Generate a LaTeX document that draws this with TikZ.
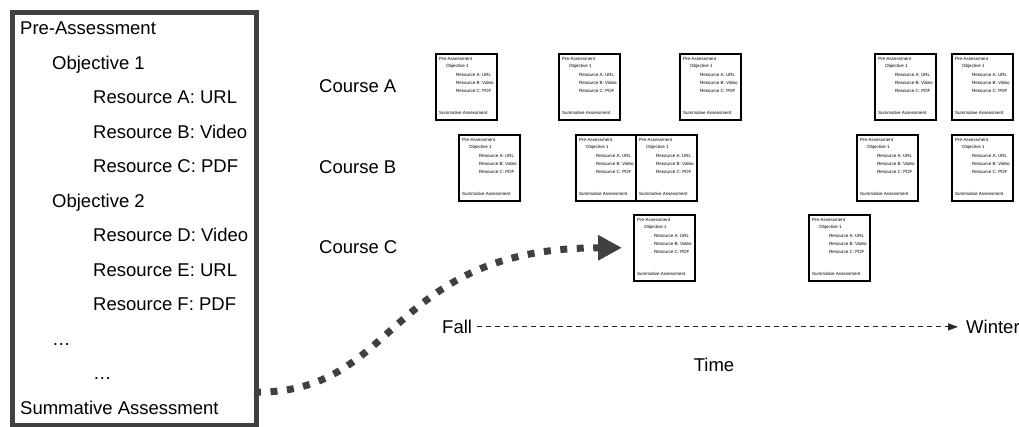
\documentclass[tikz,border=0pt]{standalone}
\usepackage{fontspec}
\setmainfont{Liberation Sans}
\usetikzlibrary{arrows.meta}
\definecolor{boxgray}{HTML}{404040}

% one small course page, top left corner at (#2,#3)
\newcommand{\coursedoc}[3]{%
  \node[docbox] (#1) at (#2,#3) {};
  \begin{scope}[shift={(#2,#3)}]
    \node[doctext] (#1-pre) at (4,5.5) {Pre-Assessment};
    \node[doctext] (#1-obj) at (11,13.5) {Objective 1};
    \node[doctext] (#1-ra) at (21,21.5) {Resource A: URL};
    \node[doctext] (#1-rb) at (21,29.5) {Resource B: Video};
    \node[doctext] (#1-rc) at (21,37.5) {Resource C: PDF};
    \node[doctext] (#1-sum) at (4,59.5) {Summative Assessment};
  \end{scope}}

\begin{document}
\begin{tikzpicture}[x=1pt, y=-1pt, font=\fontsize{18.5pt}{22pt}\selectfont,
    planbox/.style={draw=boxgray, line width=5pt, minimum width=244pt, minimum height=413pt, anchor=north west, inner sep=0},
    item/.style={anchor=base west, inner sep=0},
    docbox/.style={draw=black, fill=white, line width=1.5pt, minimum width=61pt, minimum height=66pt, anchor=north west, inner sep=0},
    doctext/.style={anchor=west, inner sep=0, font=\fontsize{4.5pt}{5pt}\selectfont},
    timeline/.style={draw=black!85, line width=1.2pt, dash pattern=on 5pt off 4pt, -{Triangle[length=10pt,width=7pt]}},
    bigflow/.style={draw=boxgray, line width=7pt, dash pattern=on 7pt off 9.5pt, -{Triangle[length=24pt,width=24pt]}}]
    \useasboundingbox (0,0) rectangle (1019,426);

    % the course outline
    \node[planbox] (plan) at (10,10) {};
    \node[item] (pre) at (20,34.7) {Pre-Assessment};
    \node[item] (obj1) at (52,69.2) {Objective 1};
    \node[item] (resA) at (93,103.7) {Resource A: URL};
    \node[item] (resB) at (93,138.2) {Resource B: Video};
    \node[item] (resC) at (93,172.7) {Resource C: PDF};
    \node[item] (obj2) at (52,207.2) {Objective 2};
    \node[item] (resD) at (93,241.7) {Resource D: Video};
    \node[item] (resE) at (93,276.2) {Resource E: URL};
    \node[item] (resF) at (93,310.7) {Resource F: PDF};
    \node[item] (more1) at (52,345) {\dots};
    \node[item] (more2) at (93,379) {\dots};
    \node[item] (sum) at (20,414.2) {Summative Assessment};

    % courses
    \node[item] (courseA) at (319,92.5) {Course A};
    \node[item] (courseB) at (319,173) {Course B};
    \node[item] (courseC) at (319,253.5) {Course C};

    \coursedoc{A1}{435}{53}
    \coursedoc{A2}{558}{53}
    \coursedoc{A3}{679}{53}
    \coursedoc{A4}{874}{53}
    \coursedoc{A5}{951}{53}

    \coursedoc{B1}{458}{134}
    \coursedoc{B2}{575}{134}
    \coursedoc{B3}{635}{134}
    \coursedoc{B4}{856}{134}
    \coursedoc{B5}{951}{134}

    \coursedoc{C1}{633}{214}
    \coursedoc{C2}{808}{214}

    % time axis
    \node[item] (fall) at (442,333.5) {Fall};
    \node[item] (winter) at (966,333.5) {Winter};
    \node[anchor=base, inner sep=0] (time) at (714,371.5) {Time};
    \draw[timeline, shorten <=5pt, shorten >=8pt] (fall.east) -- (winter.west);

    % outline goes into a course
    \coordinate (out) at (254,392);
    \draw[bigflow, shorten >=11pt] (out) .. controls (400,395) and (385,248) .. (C1.west);
\end{tikzpicture}
\end{document}
